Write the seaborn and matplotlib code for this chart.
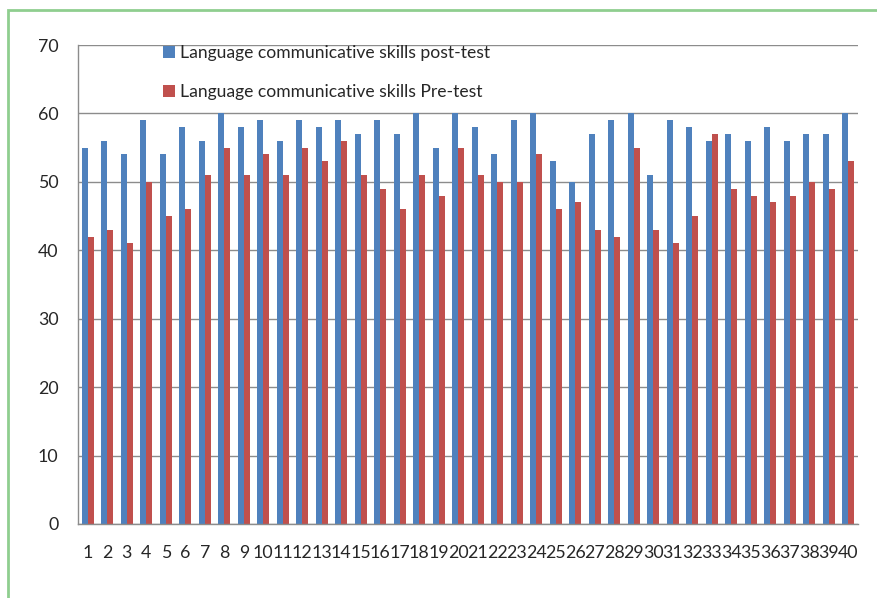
import matplotlib.pyplot as plt
import matplotlib.patches as patches
import seaborn as sns
import numpy as np
import pandas as pd

# Scores per student
students = [str(i) for i in range(1, 41)]
post_test = [55, 56, 54, 59, 54, 58, 56, 60, 58, 59,
             56, 59, 58, 59, 57, 59, 57, 60, 55, 60,
             58, 54, 59, 60, 53, 50, 57, 59, 60, 51,
             59, 58, 56, 57, 56, 58, 56, 57, 57, 60]
pre_test = [42, 43, 41, 50, 45, 46, 51, 55, 51, 54,
            51, 55, 53, 56, 51, 49, 46, 51, 48, 55,
            51, 50, 50, 54, 46, 47, 43, 42, 55, 43,
            41, 45, 57, 49, 48, 47, 48, 50, 49, 53]
series_names = ['Language communicative skills post-test',
                'Language communicative skills Pre-test']

df = pd.DataFrame({
    'Student': students * 2,
    'Score': post_test + pre_test,
    'Series': [series_names[0]] * 40 + [series_names[1]] * 40,
})

def create_plot():
    sns.set_style("white")
    plt.rcParams['font.family'] = ['Lato', 'DejaVu Sans']
    fig = plt.figure(figsize=(8.77, 5.98), dpi=100)
    ax = fig.add_axes([78 / 877, 74 / 598, 780 / 877, 479 / 598])

    sns.barplot(data=df, x='Student', y='Score', hue='Series', order=students,
                hue_order=series_names, palette=['#4f81bd', '#c0504d'],
                width=0.62, linewidth=0, saturation=1, ax=ax)

    ax.set_ylim(0, 70)
    ax.set_xlim(-0.5, 39.5)
    ax.set_yticks(range(0, 71, 10))
    ax.set_xlabel('')
    ax.set_ylabel('')
    ax.yaxis.grid(True, color='#8c8c8c', linewidth=1)
    ax.set_axisbelow(True)
    for side in ['top', 'right']:
        ax.spines[side].set_visible(False)
    for side in ['left', 'bottom']:
        ax.spines[side].set_color('#8c8c8c')
        ax.spines[side].set_linewidth(1)

    # Excel-style category ticks at the boundaries
    ax.set_xticks(np.arange(-0.5, 40, 1), minor=True)
    ax.tick_params(axis='x', which='major', length=0, pad=15, labelsize=12.8)
    ax.tick_params(axis='x', which='minor', length=5, color='#8c8c8c', direction='out')
    ax.tick_params(axis='y', length=5, color='#8c8c8c', direction='out', pad=9, labelsize=12.8)

    ax.legend(loc='upper left', bbox_to_anchor=(163 / 877, 1 - 45 / 598),
              bbox_transform=fig.transFigure, frameon=False, fontsize=12.6,
              handlelength=0.7, handleheight=0.7, handletextpad=0.25,
              labelspacing=1.3, borderpad=0, borderaxespad=0)

    # light green frame around the chart area
    frame = patches.Rectangle((8 / 877, -0.1), 1.2, 1 - 10 / 598 + 0.1,
                              transform=fig.transFigure, fill=False,
                              edgecolor='#8fce8f', linewidth=2, clip_on=False)
    fig.patches.append(frame)

    fig.savefig('out.png', dpi=100)

if __name__ == "__main__":
    create_plot()
